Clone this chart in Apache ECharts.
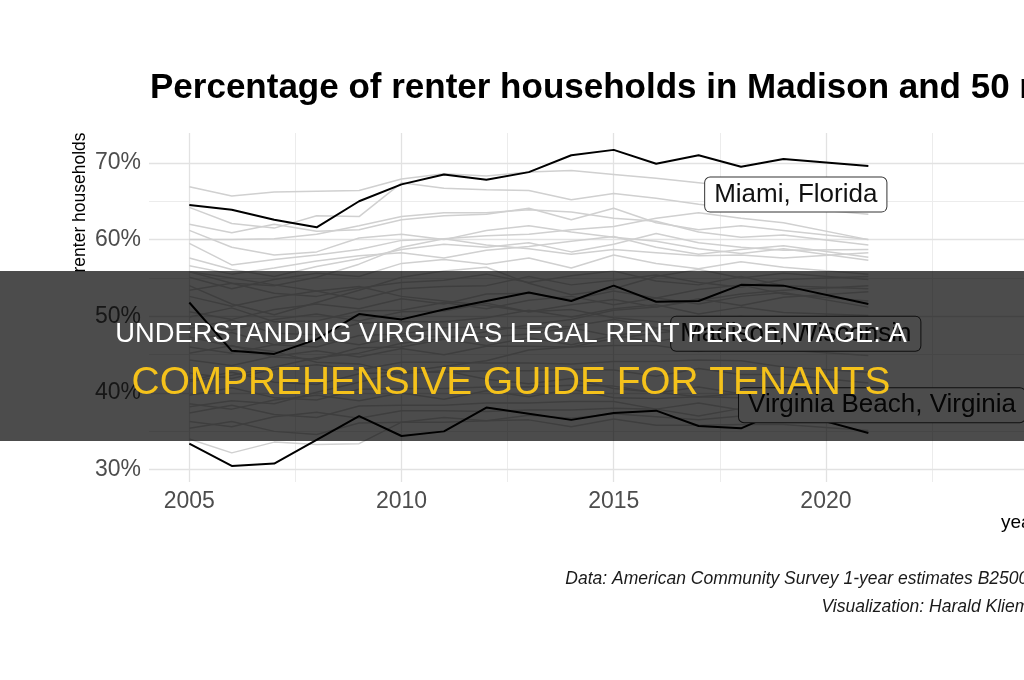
<!DOCTYPE html>
<html>
<head>
<meta charset="utf-8">
<title>Renter households</title>
<script src="https://cdn.jsdelivr.net/npm/echarts@6/dist/echarts.min.js"></script>
<style>
  html, body { margin: 0; padding: 0; background: #fff; }
  #chart { width: 1024px; height: 680px; }
</style>
</head>
<body>
<div id="chart"></div>
<script>
// ACS 1-year estimates, no 2020 release
var years = [2005, 2006, 2007, 2008, 2009, 2010, 2011, 2012, 2013, 2014, 2015, 2016, 2017, 2018, 2019, 2021];

var miami         = [64.5, 63.9, 62.6, 61.6, 65.0, 67.2, 68.5, 67.8, 68.8, 71.0, 71.7, 69.9, 71.0, 69.5, 70.5, 69.6];
var madison       = [51.8, 45.5, 45.1, 47.0, 50.3, 49.6, 50.9, 52.0, 53.1, 52.0, 54.0, 51.9, 52.0, 54.1, 54.0, 51.6];
var virginiaBeach = [33.4, 30.5, 30.8, 33.9, 37.0, 34.4, 35.0, 38.1, 37.3, 36.5, 37.4, 37.7, 35.7, 35.4, 37.8, 34.8];

// the other large cities, drawn in grey
var otherCities = [
  [66.9, 65.7, 66.2, 66.3, 66.4, 67.9, 68.6, 68.3, 68.8, 69.0, 68.5, 68.0, 67.4, 66.8, 66.5, 66.0],
  [64.2, 62.1, 61.5, 63.1, 63.0, 67.4, 66.7, 66.5, 66.4, 65.2, 66.0, 65.4, 64.6, 64.0, 64.3, 63.3],
  [62.0, 60.9, 62.0, 61.1, 61.3, 62.6, 63.1, 63.3, 64.1, 62.6, 64.1, 62.2, 61.3, 61.8, 61.2, 60.0],
  [60.0, 60.0, 60.1, 60.7, 61.8, 63.0, 63.5, 63.5, 63.9, 63.6, 62.8, 62.4, 61.0, 60.3, 60.6, 59.3],
  [59.5, 56.7, 57.4, 58.0, 58.7, 59.9, 60.1, 60.5, 60.7, 61.3, 61.7, 62.8, 63.5, 62.8, 62.2, 60.0],
  [57.6, 56.1, 55.2, 56.5, 57.5, 58.7, 59.4, 59.0, 59.6, 58.4, 59.4, 60.8, 59.6, 59.0, 58.6, 58.7],
  [61.2, 59.0, 58.0, 58.4, 60.2, 60.7, 60.0, 61.2, 61.8, 61.0, 60.3, 59.8, 58.8, 58.2, 58.8, 57.3],
  [55.8, 54.3, 54.0, 55.1, 56.8, 59.0, 60.1, 59.3, 58.8, 58.1, 58.7, 58.3, 57.9, 58.0, 57.6, 58.3],
  [56.6, 55.5, 56.3, 57.2, 57.9, 58.3, 57.6, 58.6, 59.1, 59.8, 60.4, 59.0, 58.1, 58.7, 59.2, 57.7],
  [55.1, 53.6, 54.8, 55.6, 55.2, 56.9, 57.4, 56.8, 57.6, 56.3, 58.0, 56.9, 56.2, 57.1, 56.4, 55.5],
  [54.0, 51.6, 50.2, 51.8, 53.4, 55.1, 55.9, 56.4, 54.3, 52.8, 53.6, 55.2, 56.1, 55.0, 55.6, 54.8],
  [53.4, 54.3, 53.0, 52.6, 53.7, 54.4, 54.7, 55.5, 54.4, 55.3, 55.9, 54.6, 54.1, 55.2, 54.0, 53.6],
  [52.6, 51.3, 52.5, 53.3, 52.2, 53.6, 53.9, 54.0, 55.2, 54.1, 54.7, 55.4, 54.4, 53.8, 54.8, 55.2],
  [55.8, 55.0, 54.1, 53.3, 53.9, 52.6, 52.0, 51.4, 50.6, 50.9, 49.8, 49.3, 48.6, 48.9, 48.1, 47.4],
  [50.6, 49.6, 50.9, 51.6, 51.0, 52.3, 51.6, 52.9, 53.0, 52.2, 53.3, 52.4, 53.5, 54.1, 52.9, 52.0],
  [49.9, 51.1, 49.3, 49.4, 50.7, 50.8, 51.8, 51.0, 52.1, 52.6, 51.5, 52.4, 51.6, 52.6, 53.1, 51.2],
  [49.0, 48.2, 49.6, 50.3, 49.4, 50.6, 50.7, 51.7, 50.6, 51.5, 52.2, 51.2, 52.3, 51.4, 52.5, 53.2],
  [48.4, 49.5, 47.8, 47.6, 49.1, 49.3, 49.3, 49.8, 50.8, 49.9, 51.0, 51.5, 50.3, 51.2, 50.5, 50.1],
  [41.5, 42.3, 43.4, 44.6, 45.2, 46.5, 47.1, 48.0, 48.9, 49.6, 50.8, 51.2, 52.1, 52.9, 53.4, 54.0],
  [46.8, 47.9, 46.3, 46.0, 47.5, 47.7, 48.5, 48.6, 48.4, 48.7, 49.6, 48.5, 49.4, 50.0, 48.9, 48.3],
  [46.0, 45.2, 46.3, 47.1, 46.3, 47.4, 47.4, 47.3, 47.7, 48.5, 47.4, 48.4, 47.5, 48.6, 47.8, 47.1],
  [45.2, 46.2, 44.7, 44.4, 45.9, 46.0, 47.0, 46.2, 47.2, 46.3, 47.5, 46.7, 47.7, 46.6, 47.4, 46.4],
  [44.3, 43.6, 44.8, 45.5, 44.7, 45.8, 45.0, 46.1, 46.1, 46.0, 46.2, 46.2, 45.4, 46.4, 45.6, 44.9],
  [38.2, 39.0, 38.6, 40.1, 41.4, 42.7, 43.5, 44.2, 45.6, 46.0, 47.1, 47.8, 48.4, 49.2, 48.7, 49.5],
  [42.6, 41.9, 43.1, 43.7, 43.0, 44.0, 44.0, 43.9, 43.9, 43.8, 44.1, 44.1, 44.3, 44.2, 43.4, 42.7],
  [41.7, 42.7, 41.4, 41.1, 42.5, 42.7, 42.7, 42.9, 42.9, 43.1, 43.0, 42.2, 43.2, 42.4, 42.4, 41.3],
  [47.3, 46.1, 45.4, 44.0, 43.8, 42.5, 42.9, 41.8, 41.2, 41.9, 40.6, 40.1, 39.5, 39.9, 39.0, 38.4],
  [39.7, 40.7, 39.4, 39.1, 40.5, 40.6, 40.6, 40.8, 40.8, 41.0, 40.9, 40.0, 40.8, 39.9, 40.7, 39.6],
  [38.6, 37.9, 39.1, 39.7, 39.0, 40.0, 39.2, 40.3, 39.5, 40.5, 39.4, 39.3, 39.5, 39.4, 38.6, 38.2],
  [37.4, 38.4, 37.2, 36.8, 38.3, 38.4, 38.4, 38.7, 38.7, 38.9, 38.9, 37.9, 38.7, 37.8, 38.8, 37.7],
  [36.3, 35.6, 36.9, 37.5, 36.7, 37.7, 37.7, 37.6, 37.8, 37.8, 38.0, 37.9, 37.0, 38.0, 37.2, 36.7],
  [34.0, 32.2, 33.6, 33.3, 33.4, 36.2, 36.8, 36.4, 37.1, 36.7, 37.3, 36.9, 36.5, 37.0, 36.6, 36.2],
  [35.4, 36.3, 35.0, 34.6, 36.1, 36.2, 36.2, 36.4, 36.5, 35.6, 36.6, 35.8, 35.8, 35.9, 35.9, 35.1]
];

var xMajor = [2005, 2010, 2015, 2020];
var xMinor = [2007.5, 2012.5, 2017.5, 2022.5];
var yMajor = [30, 40, 50, 60, 70];
var yMinor = [35, 45, 55, 65];

var FONT = '"Liberation Sans", Arial, sans-serif';

function pairs(vals) {
  return years.map(function (y, i) { return [y, vals[i]]; });
}

function cityLabel(name, coord) {
  return {
    symbol: 'circle',
    symbolSize: 0,
    silent: true,
    z: 10,
    label: {
      show: true,
      position: 'inside',
      formatter: '{b}',
      fontFamily: FONT,
      fontSize: 26,
      color: '#111',
      backgroundColor: '#fff',
      borderColor: '#333',
      borderWidth: 1,
      borderRadius: 5,
      padding: [4, 9]
    },
    data: [{ name: name, coord: coord }]
  };
}

function gridLines(list, key, color, width) {
  return list.map(function (v) {
    var d = { lineStyle: { color: color, width: width, type: 'solid' } };
    d[key] = v;
    return d;
  });
}

var chart = echarts.init(document.getElementById('chart'), null, { renderer: 'canvas' });

var series = [{
  name: 'grid',
  type: 'line',
  data: [],
  silent: true,
  markLine: {
    silent: true,
    symbol: 'none',
    z: 1,
    label: { show: false },
    animation: false,
    data: [].concat(
      gridLines(xMinor, 'xAxis', '#ececec', 1),
      gridLines(yMinor, 'yAxis', '#ececec', 1),
      gridLines(xMajor, 'xAxis', '#e2e2e2', 1.3),
      gridLines(yMajor, 'yAxis', '#e2e2e2', 1.3)
    )
  }
}];

otherCities.forEach(function (vals) {
  series.push({
    type: 'line',
    data: pairs(vals),
    symbol: 'none',
    silent: true,
    z: 2,
    lineStyle: { color: '#d0d0d0', width: 1.5 }
  });
});

[
  { name: 'Miami, Florida', vals: miami, at: [2019.29, 65.87] },
  { name: 'Madison, Wisconsin', vals: madison, at: [2019.29, 47.74] },
  { name: 'Virginia Beach, Virginia', vals: virginiaBeach, at: [2021.32, 38.42] }
].forEach(function (c) {
  series.push({
    name: c.name,
    type: 'line',
    data: pairs(c.vals),
    symbol: 'none',
    silent: true,
    z: 3,
    lineStyle: { color: '#000', width: 2 },
    markPoint: cityLabel(c.name, c.at)
  });
});

var option = {
  animation: false,
  backgroundColor: '#fff',
  title: {
    text: 'Percentage of renter households in Madison and 50 most populous US cities',
    left: 150,
    top: 68,
    padding: 0,
    textStyle: { fontFamily: FONT, fontSize: 35, fontWeight: 'bold', color: '#000', lineHeight: 40 }
  },
  grid: { left: 149, top: 133, width: 887, height: 349, containLabel: false, outerBoundsMode: 'none' },
  xAxis: {
    type: 'value',
    min: 2004.05,
    max: 2024.95,
    name: 'year',
    nameLocation: 'end',
    nameGap: 2,
    nameTextStyle: { fontFamily: FONT, fontSize: 19, color: '#000', align: 'right', verticalAlign: 'top', padding: [31, 0, 0, 0] },
    axisLine: { show: false },
    axisTick: { show: false },
    splitLine: { show: false },
    axisLabel: {
      fontFamily: FONT, fontSize: 23, color: '#4d4d4d', margin: 8,
      showMinLabel: false, showMaxLabel: false,
      formatter: function (v) { return String(v); }
    }
  },
  yAxis: {
    type: 'value',
    min: 28.4,
    max: 73.9,
    name: 'renter households',
    nameLocation: 'middle',
    nameGap: 60,
    nameMoveOverlap: false,
    nameRotate: 90,
    nameTextStyle: { fontFamily: FONT, fontSize: 17.5, color: '#000', align: 'left', padding: [0, 0, 0, 35] },
    axisLine: { show: false },
    axisTick: { show: false },
    splitLine: { show: false },
    axisLabel: {
      fontFamily: FONT, fontSize: 23, color: '#4d4d4d', margin: 8,
      showMinLabel: false, showMaxLabel: false,
      formatter: function (v) { return v + '%'; }
    }
  },
  series: series,
  graphic: [{
    type: 'text',
    x: 1038,
    y: 565,
    silent: true,
    style: {
      text: 'Data: American Community Survey 1-year estimates B25003\nVisualization: Harald Kliems',
      fill: '#1a1a1a', fontFamily: FONT, fontSize: 17.5, fontStyle: 'italic',
      lineHeight: 28, align: 'right', verticalAlign: 'top'
    }
  }, {
    type: 'rect',
    left: 0,
    top: 271,
    z: 100,
    silent: true,
    shape: { width: 1024, height: 170 },
    style: { fill: 'rgba(0,0,0,0.7)' }
  }, {
    type: 'text',
    x: 511,
    y: 334,
    z: 101,
    silent: true,
    style: {
      text: "UNDERSTANDING VIRGINIA'S LEGAL RENT PERCENTAGE: A",
      fill: '#fff', fontFamily: FONT, fontSize: 27.3,
      align: 'center', verticalAlign: 'middle'
    }
  }, {
    type: 'text',
    x: 511,
    y: 383,
    z: 101,
    silent: true,
    style: {
      text: 'COMPREHENSIVE GUIDE FOR TENANTS',
      fill: '#f5c21b', fontFamily: FONT, fontSize: 38.8,
      align: 'center', verticalAlign: 'middle'
    }
  }]
};

chart.setOption(option);
</script>
</body>
</html>
